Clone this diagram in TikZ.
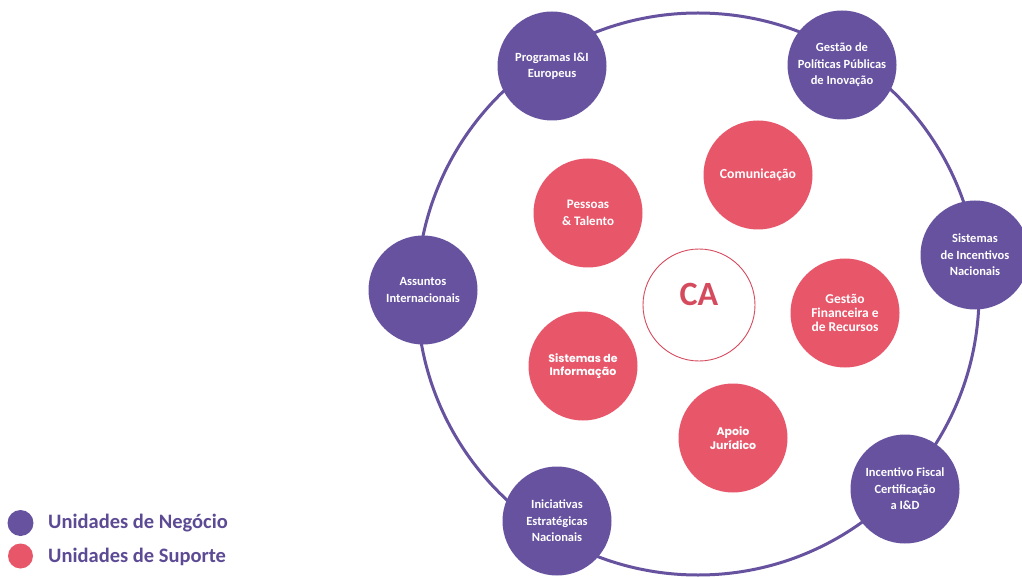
\documentclass[tikz,border=0pt]{standalone}
\usepackage{fontspec}
\setmainfont{Carlito}
\newfontfamily\geo{Poppins}
\definecolor{upurple}{RGB}{103,82,160}
\definecolor{upink}{RGB}{232,86,106}
\definecolor{capink}{RGB}{214,74,94}
\definecolor{legtext}{RGB}{92,74,148}
\begin{document}
\begin{tikzpicture}[x=1pt,y=-1pt,
  biz/.style={circle,fill=upurple,draw=none,minimum size=109pt,inner sep=0pt,text=white,align=center,font=\bfseries\fontsize{12.5}{16.5}\selectfont},
  sup/.style={circle,fill=upink,draw=none,minimum size=109pt,inner sep=0pt,text=white,align=center,font=\bfseries\fontsize{13}{16.5}\selectfont},
  supgeo/.style={sup,font=\geo\bfseries\fontsize{11}{13.3}\selectfont},
  legdot/.style={circle,inner sep=0pt,minimum size=26pt},
  legtxt/.style={anchor=west,text=legtext,font=\bfseries\fontsize{20.5}{22}\selectfont,inner sep=0pt}]
\useasboundingbox (0,0) rectangle (1022,577);
\coordinate (ctr) at (698,294);
\draw[upurple,line width=3pt] (ctr) circle[radius=281];
% central
\node[circle,draw=capink,line width=0.9pt,fill=white,minimum size=112pt,inner sep=0pt] (ca) at (699,305) {};
\node[text=capink,font=\bfseries\fontsize{34}{36}\selectfont,inner sep=0pt] (catxt) at (699,294) {CA};
% business units
\node[biz] (prog) at (552,66) {Programas I\&I\\Europeus};
\node[biz] (gpp) at (842,65) {Gestão de\\Políticas Públicas\\de Inovação};
\node[biz] (sin) at (975,255) {Sistemas\\de Incentivos\\Nacionais};
\node[biz] (ifc) at (905,489) {Incentivo Fiscal\\Certificação\\a I\&D};
\node[biz] (ien) at (557,521) {Iniciativas\\Estratégicas\\Nacionais};
\node[biz] (ai) at (423,290) {Assuntos\\Internacionais};
% support units
\node[sup] (pt) at (588,213) {Pessoas\\\& Talento};
\node[sup,font=\bfseries\fontsize{13.7}{16}\selectfont] (com) at (758,175) {Comunicação};
\node[sup,font=\bfseries\fontsize{13.5}{14}\selectfont] (gfr) at (845,313) {Gestão\\Financeira e\\de Recursos};
\node[supgeo] (si) at (583,366) {Sistemas de\\Informação};
\node[supgeo] (aj) at (733,438) {Apoio\\Jurídico};
% legend
\node[legdot,fill=upurple] (ldot1) at (20.5,523) {};
\node[legdot,fill=upink,minimum size=25pt] (ldot2) at (20.5,556) {};
\node[legtxt] (ltxt1) at (48,523) {Unidades de Negócio};
\node[legtxt] (ltxt2) at (48,557) {Unidades de Suporte};
\end{tikzpicture}
\end{document}
